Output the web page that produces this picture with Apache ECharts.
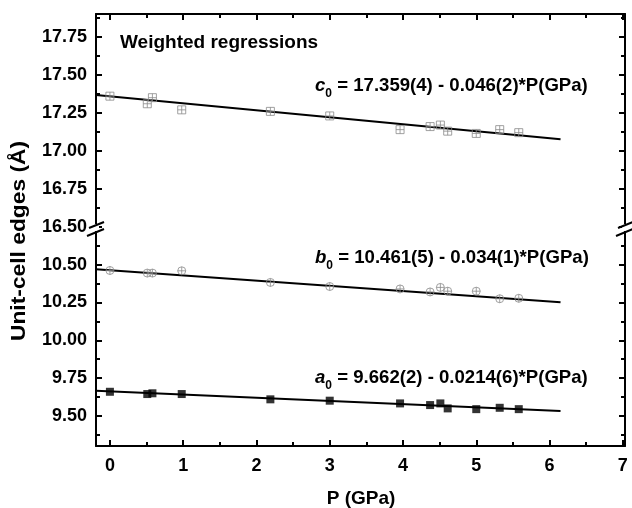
<!DOCTYPE html>
<html>
<head>
<meta charset="utf-8">
<script src="https://cdn.jsdelivr.net/npm/echarts@6/dist/echarts.min.js"></script>
<style>
  html, body { margin: 0; padding: 0; background: #fff; }
  #main { width: 632px; height: 508px; }
</style>
</head>
<body>
<div id="main"></div>
<script>
// pressure points (GPa)
var pressure = [0, 0.51, 0.58, 0.98, 2.19, 3.0, 3.96, 4.37, 4.51, 4.61, 5.0, 5.32, 5.58];
// unit-cell edges (A)
var cEdge = [17.36, 17.31, 17.35, 17.27, 17.26, 17.23, 17.14, 17.16, 17.17, 17.13, 17.115, 17.14, 17.12];
var bEdge = [10.462, 10.445, 10.445, 10.46, 10.383, 10.356, 10.34, 10.32, 10.35, 10.325, 10.325, 10.275, 10.278];
var aEdge = [9.659, 9.644, 9.649, 9.644, 9.609, 9.6, 9.582, 9.571, 9.582, 9.549, 9.544, 9.553, 9.544];
// fitted lines, ends
var fitP = [-0.19, 6.15];
var cFit = [17.368, 17.076];
var bFit = [10.471, 10.252];
var aFit = [9.666, 9.531];
// y ranges of the two parts of the broken axis
var upperRange = [16.5, 17.9];
var lowerRange = [9.3, 10.75];
var xRange = [-0.19, 7.03];

var FONT = '"Liberation Sans", Arial, sans-serif';

function pairs(xs, ys) {
  var out = [];
  for (var i = 0; i < xs.length; i++) out.push([xs[i], ys[i]]);
  return out;
}

var squarePlus = 'path://M0,0 H10 V10 H0 Z M5,0 V10 M0,5 H10';
var circlePlus = 'path://M10,5 A5,5 0 1 1 0,5 A5,5 0 1 1 10,5 Z M5,0 V10 M0,5 H10';

function xAx(grid, pos, labels) {
  return {
    type: 'value', gridIndex: grid, position: pos,
    min: xRange[0], max: xRange[1], minInterval: 1, maxInterval: 1,
    axisLine: { show: true, onZero: false, lineStyle: { color: '#000', width: 2 } },
    axisTick: { show: true, inside: true, length: 6, lineStyle: { color: '#000', width: 2 } },
    minorTick: { show: true, splitNumber: 2, length: 4, lineStyle: { color: '#000', width: 2 } },
    axisLabel: { show: labels, margin: 11, showMinLabel: false, showMaxLabel: true,
      color: '#000', fontFamily: FONT, fontWeight: 'bold', fontSize: 18,
      formatter: function (v) { return Math.abs(v - Math.round(v)) < 1e-6 ? String(Math.round(v)) : ''; } },
    splitLine: { show: false }
  };
}

function yAx(grid, pos, range, labels, hideMin, hideMax) {
  return {
    type: 'value', gridIndex: grid, position: pos,
    min: range[0], max: range[1], minInterval: 0.25, maxInterval: 0.25,
    axisLine: { show: true, onZero: false, lineStyle: { color: '#000', width: 2 } },
    axisTick: { show: true, inside: true, length: 6, lineStyle: { color: '#000', width: 2 } },
    minorTick: { show: true, splitNumber: 2, length: 4, lineStyle: { color: '#000', width: 2 } },
    axisLabel: { show: labels, margin: 9, showMinLabel: !hideMin, showMaxLabel: !hideMax,
      color: '#000', fontFamily: FONT, fontWeight: 'bold', fontSize: 18,
      formatter: function (v) { return v.toFixed(2); } },
    splitLine: { show: false }
  };
}

var main = document.getElementById('main');
var chart = echarts.init(main, null, { renderer: 'canvas' });

var option = {
  animation: false,
  backgroundColor: '#fff',
  grid: [
    { left: 96, right: 7, top: 14, height: 213 },
    { left: 96, right: 7, top: 227, height: 219 }
  ],
  xAxis: [
    xAx(0, 'top', false),
    xAx(1, 'bottom', true)
  ],
  yAxis: [
    yAx(0, 'left', upperRange, true, false, true),
    yAx(0, 'right', upperRange, false, false, true),
    yAx(1, 'left', lowerRange, true, true, true),
    yAx(1, 'right', lowerRange, false, true, true)
  ],
  series: [
    { type: 'line', xAxisIndex: 0, yAxisIndex: 0, data: pairs(fitP, cFit), symbol: 'none',
      lineStyle: { color: '#000', width: 2 }, z: 2 },
    { type: 'scatter', xAxisIndex: 0, yAxisIndex: 0, data: pairs(pressure, cEdge),
      symbol: squarePlus, symbolSize: 8,
      itemStyle: { color: 'rgba(255,255,255,0)', borderColor: '#8a8a8a', borderWidth: 1 }, z: 3 },
    { type: 'line', xAxisIndex: 1, yAxisIndex: 2, data: pairs(fitP, bFit), symbol: 'none',
      lineStyle: { color: '#000', width: 2 }, z: 2 },
    { type: 'scatter', xAxisIndex: 1, yAxisIndex: 2, data: pairs(pressure, bEdge),
      symbol: circlePlus, symbolSize: 8,
      itemStyle: { color: 'rgba(255,255,255,0)', borderColor: '#8a8a8a', borderWidth: 1 }, z: 3 },
    { type: 'line', xAxisIndex: 1, yAxisIndex: 2, data: pairs(fitP, aFit), symbol: 'none',
      lineStyle: { color: '#000', width: 2 }, z: 2 },
    { type: 'scatter', xAxisIndex: 1, yAxisIndex: 2, data: pairs(pressure, aEdge),
      symbol: 'rect', symbolSize: 8, itemStyle: { color: '#000' }, z: 3 }
  ]
};
chart.setOption(option);

// annotations and break marks
function eq(letter, rest, y) {
  return {
    type: 'text', z: 50,
    style: {
      x: 315, y: y, textVerticalAlign: 'middle',
      text: '{i|' + letter + '}{s|0}{t| = ' + rest + '}',
      rich: {
        i: { fontFamily: FONT, fontWeight: 'bold', fontStyle: 'italic', fontSize: 18.6, lineHeight: 28, verticalAlign: 'middle', fill: '#000' },
        s: { fontFamily: FONT, fontWeight: 'bold', fontSize: 12, lineHeight: 28, verticalAlign: 'bottom', fill: '#000' },
        t: { fontFamily: FONT, fontWeight: 'bold', fontSize: 18.6, lineHeight: 28, verticalAlign: 'middle', fill: '#000' }
      }
    }
  };
}

var yb = chart.convertToPixel({ yAxisIndex: 0 }, upperRange[0]);
var xl = chart.convertToPixel({ xAxisIndex: 1 }, xRange[0]);
var xr = chart.convertToPixel({ xAxisIndex: 1 }, xRange[1]);

function breakMark(x) {
  return [
    { type: 'rect', z: 60, shape: { x: x - 3, y: yb - 3, width: 6, height: 7 }, style: { fill: '#fff' } },
    { type: 'line', z: 61, shape: { x1: x - 7, y1: yb + 1, x2: x + 8, y2: yb - 5 }, style: { stroke: '#000', lineWidth: 2 } },
    { type: 'line', z: 61, shape: { x1: x - 9, y1: yb + 9, x2: x + 8, y2: yb + 2 }, style: { stroke: '#000', lineWidth: 2 } }
  ];
}

chart.setOption({
  graphic: [
    { type: 'text', z: 50, style: { x: 120, y: 43, textVerticalAlign: 'middle', text: 'Weighted regressions',
      font: 'bold 19px ' + FONT, fill: '#000' } },
    eq('c', '17.359(4) - 0.046(2)*P(GPa)', 86),
    eq('b', '10.461(5) - 0.034(1)*P(GPa)', 258),
    eq('a', '9.662(2) - 0.0214(6)*P(GPa)', 378),
    { type: 'text', z: 50, style: { x: 361, y: 499, textAlign: 'center', textVerticalAlign: 'middle', text: 'P (GPa)',
      font: 'bold 19px ' + FONT, fill: '#000' } },
    { type: 'text', z: 50, x: 19, y: 241, rotation: Math.PI / 2, scaleX: 1.14,
      style: { x: 0, y: 0, textAlign: 'center', textVerticalAlign: 'middle', text: 'Unit-cell edges (Å)',
        font: 'bold 20px ' + FONT, fill: '#000' } }
  ].concat(breakMark(xl)).concat(breakMark(xr))
});
</script>
</body>
</html>
